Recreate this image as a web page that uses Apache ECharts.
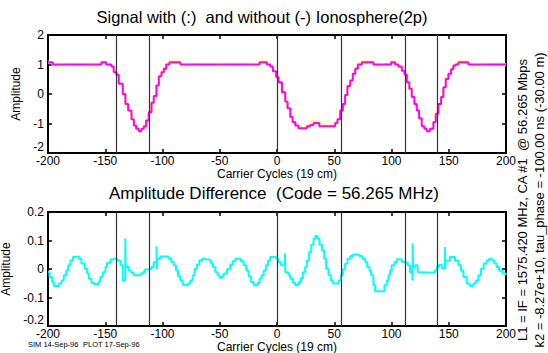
<!DOCTYPE html>
<html><head><meta charset="utf-8">
<script src="https://cdn.jsdelivr.net/npm/echarts@6/dist/echarts.min.js"></script>
<style>html,body{margin:0;padding:0;background:#fff}#c{width:548px;height:353px}</style>
</head><body><div id="c"></div>
<script>
const xTicks = [-200, -150, -100, -50, 0, 50, 100, 150, 200];
const signalTicks = [-2, -1, 0, 1, 2];
const diffTicks = [-0.2, -0.1, 0, 0.1, 0.2];
const codeBoundaries = [-140, -112, 0, 56, 112, 140];

const titleTop = 'Signal with (:)\u00a0 and without (-) Ionosphere(2p)';
const titleBottom = 'Amplitude Difference\u00a0 (Code = 56.265 MHz)';
const xName = 'Carrier Cycles (19 cm)';
const yName = 'Amplitude';
const sideText1 = 'L1 = IF = 1575.420 MHz, CA #1\u00a0 @ 56.265 Mbps';
const sideText2 = 'k2 = -8.27e+10, tau_phase = -100.00 ns (-30.00 m)';
const simText = 'SIM 14-Sep-96';
const plotText = 'PLOT 17-Sep-96';

// signal without ionosphere (solid, magenta): [carrier cycle, amplitude] step starts
const signalWithout = [[-200,1.08],[-195.8,1.0],[-153.3,1.08],[-149.2,1.0],[-144.6,0.93],[-142.6,0.74],[-140.2,0.65],[-138.2,0.35],[-134.7,0.0],[-132.4,-0.34],[-130,-0.56],[-127.1,-0.86],[-125,-1.07],[-123,-1.18],[-120.7,-1.26],[-118.4,-1.18],[-116.3,-1.09],[-114.3,-0.9],[-112,-0.62],[-109.6,-0.3],[-107.6,-0.07],[-105.3,0.29],[-103.2,0.6],[-100.9,0.74],[-98.9,0.86],[-96.8,1.0],[-93.9,1.08],[-84.4,1.0],[-15.2,1.08],[-8.8,1.0],[-5.9,0.93],[-3.6,0.77],[-0.7,0.57],[1.4,0.40],[4.3,0.06],[7.2,-0.25],[9.2,-0.48],[11.6,-0.78],[13.6,-0.95],[15.9,-1.07],[18.8,-1.16],[26.1,-1.09],[29,-1.05],[31.9,-0.98],[36.9,-1.09],[50.8,-0.98],[52.8,-0.86],[55.2,-0.56],[57.5,-0.34],[59.5,-0.03],[61.5,0.27],[63.9,0.46],[66.2,0.69],[68.3,0.86],[70.6,1.0],[74.1,1.08],[84.2,1.0],[99.7,1.08],[103.1,1.0],[106,0.93],[109,0.79],[111.3,0.66],[113.4,0.40],[115.6,0.18],[117.7,-0.1],[120,-0.34],[122.1,-0.56],[124.1,-0.82],[126.4,-1.09],[128.7,-1.18],[130.8,-1.26],[133.7,-1.18],[136.6,-0.95],[138.7,-0.67],[140.9,-0.34],[143.3,-0.1],[145.3,0.23],[147.4,0.51],[149.7,0.69],[152,0.84],[154,0.97],[156.1,1.0],[158.4,1.08],[167.1,1.0],[200,1.0]];

// signal with ionosphere (dotted, pale yellow)
const signalWith = [[-200,1.08],[-195.8,1.0],[-194,0.93],[-186,1.0],[-167,0.93],[-158,1.0],[-153.3,1.08],[-149.2,1.0],[-144.6,0.95],[-142.6,0.76],[-140.2,0.62],[-138.2,0.38],[-134.7,0.05],[-132.4,-0.3],[-130,-0.6],[-127.1,-0.84],[-125,-1.1],[-123,-1.2],[-120.7,-1.28],[-118.4,-1.2],[-116.3,-1.05],[-114.3,-0.85],[-112,-0.6],[-109.6,-0.25],[-107.6,-0.1],[-105.3,0.33],[-103.2,0.63],[-100.9,0.78],[-98.9,0.9],[-96.8,1.05],[-93.9,1.1],[-84.4,0.93],[-75,1.0],[-52.4,0.93],[-46.6,1.0],[-22.3,0.93],[-16.5,1.0],[-15.2,1.1],[-8.8,1.05],[-5.9,0.95],[-3.6,0.74],[-0.7,0.6],[1.4,0.36],[4.3,0.1],[7.2,-0.28],[9.2,-0.45],[11.6,-0.82],[13.6,-0.98],[15.9,-1.1],[18.8,-1.14],[26.1,-1.05],[29,-0.92],[37.7,-1.05],[50.8,-1.02],[52.8,-0.9],[55.2,-0.52],[57.5,-0.38],[59.5,0.02],[61.5,0.24],[63.9,0.5],[66.2,0.66],[68.3,0.9],[70.6,1.04],[74.1,1.1],[84.2,0.93],[92,1.0],[99.7,1.1],[103.1,1.02],[106,0.9],[109,0.82],[111.3,0.62],[113.4,0.44],[115.6,0.14],[117.7,-0.06],[120,-0.38],[122.1,-0.52],[124.1,-0.86],[126.4,-1.06],[128.7,-1.2],[130.8,-1.24],[133.7,-1.15],[136.6,-0.98],[138.7,-0.62],[140.9,-0.38],[143.3,-0.06],[145.3,0.2],[147.4,0.55],[149.7,0.66],[152,0.88],[154,0.95],[156.1,1.04],[158.4,1.1],[167.1,1.0],[170,0.93],[180,1.0],[200,1.0]];

// amplitude difference (cyan)
const ampDiff = [[-200,-0.01],[-198.7,-0.028],[-196.4,-0.046],[-194.9,-0.06],[-190.5,-0.051],[-188.2,-0.04],[-186.2,-0.022],[-184.1,-0.005],[-182.4,0.013],[-180.4,0.03],[-178.3,0.042],[-176,0.044],[-173.1,0.036],[-170.8,0.019],[-167.9,0.001],[-165.8,-0.016],[-164.4,-0.034],[-162,-0.048],[-160,-0.053],[-155.6,-0.043],[-154.2,-0.028],[-152.2,-0.011],[-149.8,0.007],[-148.4,0.022],[-145.5,0.033],[-142.6,0.036],[-139.6,0.03],[-136.8,0.015],[-134.7,-0.04],[-132.5,0.107],[-132.2,0.007],[-129.5,-0.005],[-127.2,-0.014],[-125.1,-0.022],[-119.3,-0.016],[-117.3,-0.011],[-115.5,-0.002],[-112,0],[-109.7,0.007],[-107.7,0.024],[-105.2,0.08],[-105,-0.002],[-104.6,0.036],[-101.9,0.044],[-94.6,0.036],[-92.3,0.025],[-90.2,0.013],[-88.2,-0.005],[-86.4,-0.025],[-84.4,-0.04],[-82.4,-0.055],[-80.6,-0.057],[-77.7,-0.051],[-75.7,-0.04],[-73.6,-0.022],[-71.9,0],[-69.9,0.015],[-67.8,0.03],[-65.5,0.036],[-62.6,0.033],[-58.8,0.03],[-57.6,0.019],[-55.9,0.007],[-53.9,-0.011],[-51.8,-0.022],[-50.1,-0.032],[-48.1,-0.025],[-46.6,-0.016],[-43.7,-0.001],[-40.8,0.015],[-38.8,0.027],[-36.4,0.036],[-31.5,0.027],[-29.2,0.013],[-26.8,-0.005],[-24.8,-0.025],[-22.8,-0.046],[-20.4,-0.057],[-16.9,-0.048],[-15.2,-0.034],[-13.5,-0.022],[-11.7,-0.005],[-9.7,0.013],[-7.9,0.03],[-5.9,0.042],[-0.7,0.036],[1.4,0.025],[3.4,0.013],[7.0,0.054],[7.3,-0.011],[10.1,-0.022],[11.5,-0.034],[13.9,-0.048],[15.9,-0.057],[17.9,-0.054],[19.1,-0.046],[20.9,-0.032],[22.6,-0.011],[24.6,0.007],[26.1,0.03],[28.1,0.06],[29.9,0.085],[31.9,0.106],[33.4,0.116],[35.4,0.106],[37.1,0.085],[39.2,0.065],[41.2,0.036],[42.9,0.001],[45,-0.022],[47,-0.04],[48.8,-0.051],[53.7,-0.04],[55.8,-0.022],[57.5,-0.001],[59.5,0.019],[61.6,0.036],[63.9,0.046],[66.2,0.051],[71.7,0.046],[74.6,0.036],[77,0.025],[78.7,0.007],[80.8,-0.005],[82.2,-0.022],[84.2,-0.057],[85.7,-0.078],[93.8,-0.057],[95.9,-0.04],[97.3,-0.022],[98.8,-0.005],[100.2,0.013],[102.6,0.025],[104.6,0.034],[109,0.025],[111.9,0.022],[114.2,0.013],[116.2,-0.011],[118.3,-0.04],[118.5,0.09],[118.8,0.007],[120.6,0.013],[122.9,-0.011],[124.95,-0.013],[138,-0.005],[139.5,0.007],[141.5,0.015],[144,0.003],[146.6,0.077],[146.9,0],[147.3,0.03],[151.1,0.042],[155.5,0.03],[158.4,0.013],[160.7,-0.005],[162.8,-0.028],[165.7,-0.051],[168.6,-0.06],[171.5,-0.051],[173.5,-0.04],[175.8,-0.022],[178.2,0.001],[180.5,0.019],[183.1,0.03],[185.2,0.036],[187.5,0.03],[189.8,0.019],[191.8,0.007],[193.9,-0.005],[196.8,-0.016],[199.7,-0.022],[200,-0.022]];

const FONT = '"Liberation Sans", Arial, Helvetica, sans-serif';
const chart = echarts.init(document.getElementById('c'), null, {renderer: 'svg'});

function xAx(grid, pos, withLabels) {
  return {
    type: 'value', gridIndex: grid, position: pos,
    min: xTicks[0], max: xTicks[xTicks.length - 1], interval: xTicks[1] - xTicks[0],
    axisLine: {show: true, onZero: false, lineStyle: {color: '#000', width: 2}},
    axisTick: {show: true, inside: true, length: 4, lineStyle: {color: '#000', width: 1.5}},
    axisLabel: {show: withLabels, margin: 2, fontSize: 12, color: '#000', fontFamily: FONT},
    splitLine: {show: false},
    name: withLabels ? xName : '', nameLocation: 'middle', nameGap: 13,
    nameTextStyle: {fontSize: 12, color: '#000', fontFamily: FONT}
  };
}
function yAx(grid, pos, ticks, withLabels, gap) {
  return {
    type: 'value', gridIndex: grid, position: pos,
    min: ticks[0], max: ticks[ticks.length - 1], interval: +(ticks[1] - ticks[0]).toFixed(3),
    axisLine: {show: true, onZero: false, lineStyle: {color: '#000', width: 2}},
    axisTick: {show: true, inside: true, length: 4, lineStyle: {color: '#000', width: 1.5}},
    axisLabel: {show: withLabels, margin: 4, fontSize: 12, color: '#000', fontFamily: FONT,
                verticalAlignMinLabel: 'bottom'},
    splitLine: {show: false},
    name: withLabels ? yName : '', nameLocation: 'middle', nameGap: gap, nameRotate: 90,
    nameTextStyle: {fontSize: 12, color: '#000', fontFamily: FONT}
  };
}
const markLines = {
  silent: true, symbol: ['none', 'none'], label: {show: false},
  lineStyle: {color: '#333', width: 1.2, type: 'solid'},
  data: codeBoundaries.map(v => ({xAxis: v})), animation: false
};

chart.setOption({
  animation: false,
  grid: [
    {left: 48, right: 42, top: 35, height: 118, containLabel: false, outerBoundsMode: 'none'},
    {left: 48, right: 42, top: 212, height: 114, containLabel: false, outerBoundsMode: 'none'}
  ],
  xAxis: [xAx(0, 'bottom', true), xAx(0, 'top', false), xAx(1, 'bottom', true), xAx(1, 'top', false)],
  yAxis: [yAx(0, 'left', signalTicks, true, 18), yAx(0, 'right', signalTicks, false, 0),
          yAx(1, 'left', diffTicks, true, 27), yAx(1, 'right', diffTicks, false, 0)],
  series: [
    {type: 'line', xAxisIndex: 0, yAxisIndex: 0, data: signalWith, step: 'end', showSymbol: false,
     lineStyle: {color: '#ffff99', width: 3}, z: 1},
    {type: 'line', xAxisIndex: 0, yAxisIndex: 0, data: signalWithout, step: 'end', showSymbol: false,
     lineStyle: {color: '#ff00ff', width: 2}, z: 3, markLine: markLines},
    {type: 'line', xAxisIndex: 2, yAxisIndex: 2, data: ampDiff, step: 'end', showSymbol: false,
     lineStyle: {color: '#00ffff', width: 2}, z: 3, markLine: markLines}
  ],
  graphic: [
    {type: 'text', x: 262, y: 17, style: {text: titleTop, font: '16.5px ' + FONT, fill: '#000', textAlign: 'center', textVerticalAlign: 'middle'}},
    {type: 'text', x: 274, y: 193, style: {text: titleBottom, font: '17px ' + FONT, fill: '#000', textAlign: 'center', textVerticalAlign: 'middle'}},
    {type: 'text', x: 522, y: 200, rotation: Math.PI / 2, style: {text: sideText1, font: '13px ' + FONT, fill: '#000', textAlign: 'center', textVerticalAlign: 'middle'}},
    {type: 'text', x: 539, y: 200, rotation: Math.PI / 2, style: {text: sideText2, font: '13px ' + FONT, fill: '#000', textAlign: 'center', textVerticalAlign: 'middle'}},
    {type: 'text', x: 28, y: 348, style: {text: simText, font: '7.5px ' + FONT, fill: '#000', textAlign: 'left', textVerticalAlign: 'bottom'}},
    {type: 'text', x: 83, y: 348, style: {text: plotText, font: '7.5px ' + FONT, fill: '#000', textAlign: 'left', textVerticalAlign: 'bottom'}}
  ]
});
</script>
</body></html>
